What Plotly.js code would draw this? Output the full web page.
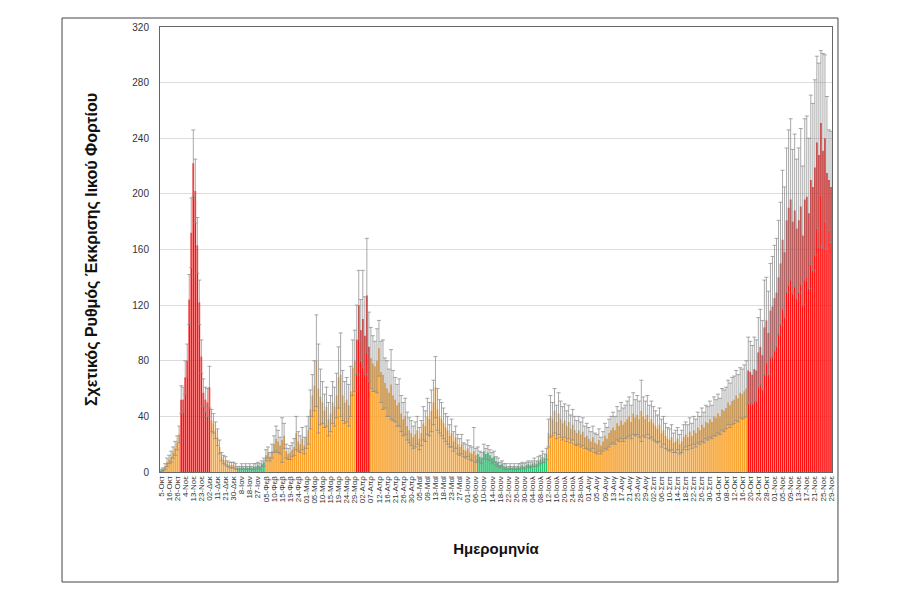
<!DOCTYPE html>
<html>
<head>
<meta charset="utf-8">
<script src="https://cdn.plot.ly/plotly-3.0.1.min.js"></script>
<style>html,body{margin:0;padding:0;background:#fff;}#chart{width:900px;height:600px;}</style>
</head>
<body>
<div id="chart"></div>
<script>
// Tick labels (one every 4 bars)
const tickLabels = ["5-Οκτ","16-Οκτ","26-Οκτ","4-Νοε","13-Νοε","23-Νοε","02-Δεκ","11-Δεκ","21-Δεκ","30-Δεκ",
"8-Ιαν","18-Ιαν","27-Ιαν","05-Φεβ","10-Φεβ","15-Φεβ","19-Φεβ","24-Φεβ","01-Μαρ","05-Μαρ",
"10-Μαρ","15-Μαρ","19-Μαρ","24-Μαρ","29-Μαρ","02-Απρ","07-Απρ","12-Απρ","16-Απρ","21-Απρ",
"26-Απρ","30-Απρ","05-Μαϊ","09-Μαϊ","13-Μαϊ","18-Μαϊ","23-Μαϊ","27-Μαϊ","01-Ιουν","06-Ιουν",
"10-Ιουν","14-Ιουν","18-Ιουν","22-Ιουν","26-Ιουν","30-Ιουν","04-Ιουλ","08-Ιουλ","12-Ιουλ","16-Ιουλ",
"20-Ιουλ","24-Ιουλ","28-Ιουλ","01-Αυγ","05-Αυγ","09-Αυγ","13-Αυγ","17-Αυγ","21-Αυγ","25-Αυγ",
"29-Αυγ","02-Σεπ","06-Σεπ","10-Σεπ","14-Σεπ","18-Σεπ","22-Σεπ","26-Σεπ","30-Σεπ","04-Οκτ",
"08-Οκτ","12-Οκτ","16-Οκτ","20-Οκτ","24-Οκτ","28-Οκτ","01-Νοε","05-Νοε","09-Νοε","13-Νοε",
"17-Νοε","21-Νοε","25-Νοε","29-Νοε"];
const labelEvery = 4;

// Relative viral load values (one per sample)
const values = [
1,2,4,7, 9,11,14,17, 21,27,52,52, 68,80,124,172, 222,202,163,122, 83,57,52,50, 61,37,35,30,
25,18,11,9, 8,6,5,5, 5,4,3,3, 4,3,4,3, 4,3,4,4, 5,4,6,7,
12,14,11,15, 20,24,22,19, 23,26,15,13, 14,16,18,28, 22,20,24,19, 25,30,45,55, 62,80,60,54,
50,44,47,38, 42,50,47,55, 68,70,55,50, 52,48,58,75, 80,95,120,102, 110,98,127,90,
82,78,76,80, 89,72,70,64, 60,57,63,55, 52,48,50,42, 38,40,33,30, 28,25,27,30,
24,28,35,33, 40,38,44,50, 61,45,40,38, 35,32,30,26, 28,22,25,20, 18,20,16,15,
17,14,13,15, 12,13,11,10, 15,13,14,12, 10,11,8,7, 5,6,4,4, 3,4,3,4, 3,4,4,5,
4,5,6,5, 6,7,6,8, 9,11,10,13,
28,40,38,44, 36,42,38,35, 37,33,36,31, 34,30,28,30, 27,29,25,26, 24,22,25,21,
20,23,19,22, 26,24,28,30, 32,30,35,33, 37,34,36,38, 40,36,42,39, 41,38,44,40,
38,41,36,38, 35,33,31,34, 28,30,26,24, 23,25,21,22, 24,20,22,25, 27,25,29,26,
30,28,32,30, 34,32,36,35, 38,36,40,39, 42,40,45,44, 46,50,48,51, 52,55,53,57,
56,58,60,73, 72,70,74,73, 86,90,84,104, 109,100,116,119, 125,129,140,150,
167,158,181,190, 196,180,188,175, 181,191,170,196, 198,186,210,205,
219,237,228,251, 231,240,215,210, 205];

// Error (± spread) per sample
const errors = [
1,1,2,3, 3,4,4,5, 5,6,10,9, 12,12,18,25, 24,23,20,16, 12,10,9,10, 15,8,7,6,
6,5,3,3, 3,2,2,2, 2,2,1,1, 2,1,2,1, 2,1,2,2, 2,2,2,3,
4,4,3,5, 6,9,8,6, 16,9,5,4, 5,5,6,12, 7,6,8,6, 8,10,14,15, 18,33,32,20,
15,12,14,12, 13,15,14,16, 22,30,18,15, 16,15,18,20, 22,25,25,22, 35,28,41,25,
22,20,18,23, 20,22,25,18, 20,17,25,18, 16,15,17,13, 12,13,10,9, 9,8,9,10,
8,9,12,11, 13,12,15,16, 22,15,12,12, 11,10,10,8, 10,7,8,7, 6,7,5,5,
6,5,5,17, 5,5,4,4, 5,4,5,4, 4,4,3,3, 2,2,2,2, 1,2,1,2, 1,2,2,2,
2,2,2,2, 2,3,2,3, 3,4,3,4,
10,15,12,16, 12,15,13,12, 12,11,12,10, 11,10,9,10, 9,10,8,9, 8,7,8,7,
7,8,6,7, 9,8,10,10, 11,10,12,11, 13,12,12,13, 14,12,15,13, 14,13,22,14,
13,14,12,13, 12,11,10,12, 10,10,9,8, 8,9,7,8, 8,7,8,9, 9,9,10,9,
10,10,11,10, 12,11,12,12, 13,12,14,13, 14,13,15,15, 15,16,16,17, 17,18,17,18,
18,19,20,24, 22,21,23,22, 25,27,25,34, 31,30,34,36, 38,39,41,44,
50,47,52,56, 58,52,55,50, 52,56,50,58, 58,54,61,60,
63,62,66,52, 70,60,55,36, 40];

// Alert-level periods (sample index ranges)
const redPeriods = [[10,24],[97,103],[291,332]];
const greenPeriods = [[0,1],[38,51],[157,191]];

const COL_RED = '#FF1010', COL_ORANGE = '#F9A12A', COL_GREEN = '#2BC472';

const N = values.length;
const xs = values.map((_, i) => i);
const inRanges = (i, rs) => rs.some(r => i >= r[0] && i <= r[1]);
const colors = xs.map(i => inRanges(i, redPeriods) ? COL_RED : (inRanges(i, greenPeriods) ? COL_GREEN : COL_ORANGE));
const tickvals = tickLabels.map((_, k) => k * labelEvery);

const trace = {
  type: 'bar', x: xs, y: values,
  marker: {color: colors, line: {width: 0}},
  error_y: {type: 'data', array: errors, visible: true, color: '#8c8c8c', thickness: 0.75, width: 2},
  hoverinfo: 'y'
};

const font = 'Liberation Sans, Arial, sans-serif';
const layout = {
  width: 900, height: 600,
  margin: {l: 160, r: 68, t: 27, b: 128},
  paper_bgcolor: '#fff', plot_bgcolor: '#fff',
  bargap: 0.2,
  showlegend: false,
  font: {family: font, color: '#333'},
  xaxis: {
    type: 'linear', range: [-0.5, N - 0.5],
    tickmode: 'array', tickvals: tickvals, ticktext: tickLabels,
    tickangle: -90, tickfont: {size: 8, color: '#333'},
    ticks: '', showgrid: false, zeroline: false,
    showline: true, linecolor: '#666', linewidth: 1, mirror: true,
    title: {text: 'Ημερομηνία', font: {size: 15, color: '#111', family: font, weight: 'bold'}, standoff: 40}
  },
  yaxis: {
    range: [0, 320], dtick: 40, tick0: 0,
    tickfont: {size: 10, color: '#333'},
    ticks: 'outside', ticklen: 8, tickcolor: 'rgba(0,0,0,0)',
    showgrid: true, gridcolor: '#dcdcdc', gridwidth: 1, zeroline: false,
    showline: true, linecolor: '#666', linewidth: 1, mirror: true,
    title: {text: 'Σχετικός Ρυθμός Έκκρισης Ιικού Φορτίου', font: {size: 16, color: '#111', family: font, weight: 'bold'}, standoff: 30}
  },
  shapes: [{
    type: 'rect', xref: 'paper', yref: 'paper',
    x0: -0.1458, x1: 1.0089, y0: -0.2472, y1: 1.0202,
    line: {color: '#444', width: 1}, fillcolor: 'rgba(0,0,0,0)', layer: 'below'
  }]
};

Plotly.newPlot('chart', [trace], layout, {displayModeBar: false, staticPlot: true});
</script>
</body>
</html>
